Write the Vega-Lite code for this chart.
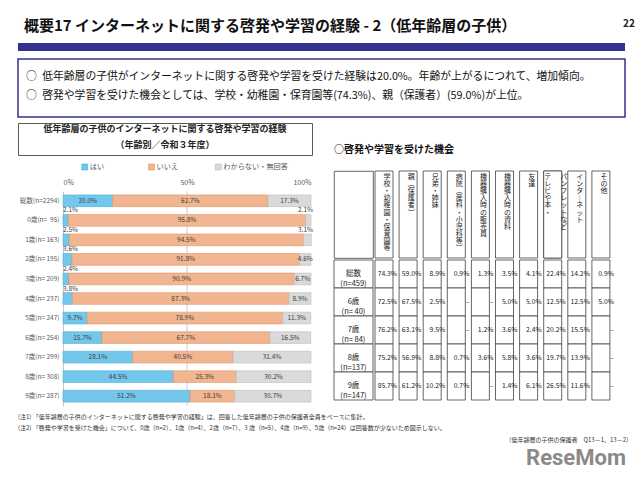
{
  "$schema": "https://vega.github.io/schema/vega-lite/v6.json",
  "background": "white",
  "padding": {"left": 17, "top": 17, "right": 4, "bottom": 0},
  "config": {
    "font": "Noto Sans CJK JP",
    "view": {"stroke": null},
    "axis": {"labelFont": "Noto Sans CJK JP", "titleFont": "Noto Sans CJK JP"},
    "legend": {"labelFont": "Noto Sans CJK JP"},
    "title": {"font": "Noto Sans CJK JP"},
    "text": {"font": "Noto Sans CJK JP"}
  },
  "datasets": {
    "bullets": [
      {"n": "1", "t": "○\u2002低年齢層の子供がインターネットに関する啓発や学習を受けた経験は20.0%。年齢が上がるにつれて、増加傾向。"},
      {"n": "2", "t": "○\u2002啓発や学習を受けた機会としては、学校・幼稚園・保育園等(74.3%)、親（保護者）(59.0%)が上位。"}
    ],
    "ltitle": [
      {"n": "1", "t": "低年齢層の子供のインターネットに関する啓発や学習の経験"},
      {"n": "2", "t": "（年齢別／令和３年度）"}
    ],
    "bars": [
      {"a": "総数(n=2294)", "c": "はい", "o": 1, "v": 0.200},
      {"a": "総数(n=2294)", "c": "いいえ", "o": 2, "v": 0.627},
      {"a": "総数(n=2294)", "c": "わからない・無回答", "o": 3, "v": 0.173},
      {"a": "0歳(n=\u00a0\u00a095)", "c": "はい", "o": 1, "v": 0.021},
      {"a": "0歳(n=\u00a0\u00a095)", "c": "いいえ", "o": 2, "v": 0.958},
      {"a": "0歳(n=\u00a0\u00a095)", "c": "わからない・無回答", "o": 3, "v": 0.021},
      {"a": "1歳(n=\u00a0163)", "c": "はい", "o": 1, "v": 0.025},
      {"a": "1歳(n=\u00a0163)", "c": "いいえ", "o": 2, "v": 0.945},
      {"a": "1歳(n=\u00a0163)", "c": "わからない・無回答", "o": 3, "v": 0.031},
      {"a": "2歳(n=\u00a0195)", "c": "はい", "o": 1, "v": 0.036},
      {"a": "2歳(n=\u00a0195)", "c": "いいえ", "o": 2, "v": 0.918},
      {"a": "2歳(n=\u00a0195)", "c": "わからない・無回答", "o": 3, "v": 0.046},
      {"a": "3歳(n=\u00a0209)", "c": "はい", "o": 1, "v": 0.024},
      {"a": "3歳(n=\u00a0209)", "c": "いいえ", "o": 2, "v": 0.909},
      {"a": "3歳(n=\u00a0209)", "c": "わからない・無回答", "o": 3, "v": 0.067},
      {"a": "4歳(n=\u00a0237)", "c": "はい", "o": 1, "v": 0.038},
      {"a": "4歳(n=\u00a0237)", "c": "いいえ", "o": 2, "v": 0.873},
      {"a": "4歳(n=\u00a0237)", "c": "わからない・無回答", "o": 3, "v": 0.089},
      {"a": "5歳(n=\u00a0247)", "c": "はい", "o": 1, "v": 0.097},
      {"a": "5歳(n=\u00a0247)", "c": "いいえ", "o": 2, "v": 0.789},
      {"a": "5歳(n=\u00a0247)", "c": "わからない・無回答", "o": 3, "v": 0.113},
      {"a": "6歳(n=\u00a0254)", "c": "はい", "o": 1, "v": 0.157},
      {"a": "6歳(n=\u00a0254)", "c": "いいえ", "o": 2, "v": 0.677},
      {"a": "6歳(n=\u00a0254)", "c": "わからない・無回答", "o": 3, "v": 0.165},
      {"a": "7歳(n=\u00a0299)", "c": "はい", "o": 1, "v": 0.281},
      {"a": "7歳(n=\u00a0299)", "c": "いいえ", "o": 2, "v": 0.405},
      {"a": "7歳(n=\u00a0299)", "c": "わからない・無回答", "o": 3, "v": 0.314},
      {"a": "8歳(n=\u00a0308)", "c": "はい", "o": 1, "v": 0.445},
      {"a": "8歳(n=\u00a0308)", "c": "いいえ", "o": 2, "v": 0.253},
      {"a": "8歳(n=\u00a0308)", "c": "わからない・無回答", "o": 3, "v": 0.302},
      {"a": "9歳(n=\u00a0287)", "c": "はい", "o": 1, "v": 0.512},
      {"a": "9歳(n=\u00a0287)", "c": "いいえ", "o": 2, "v": 0.181},
      {"a": "9歳(n=\u00a0287)", "c": "わからない・無回答", "o": 3, "v": 0.307}
    ],
    "hdr": [
      {"c": "学校・幼稚園・保育園等", "p": "c", "t": "学\n校\n・\n幼\n稚\n園\n・\n保\n育\n園\n等"},
      {"c": "親（保護者）", "p": "c", "t": "親\n︵\n保\n護\n者\n︶"},
      {"c": "兄弟・姉妹", "p": "c", "t": "兄\n弟\n・\n姉\n妹"},
      {"c": "病院（産科・小児科等）", "p": "c", "t": "病\n院\n︵\n産\n科\n・\n小\n児\n科\n等\n︶"},
      {"c": "機器購入時の販売員", "p": "c", "t": "機\n器\n購\n入\n時\nの\n販\n売\n員"},
      {"c": "機器購入時の資料", "p": "c", "t": "機\n器\n購\n入\n時\nの\n資\n料"},
      {"c": "友達", "p": "c", "t": "友\n達"},
      {"c": "テレビや本・パンフレットなど", "p": "l", "t": "テ\nレ\nビ\nや\n本\n・"},
      {"c": "テレビや本・パンフレットなど", "p": "r", "t": "パ\nン\nフ\nレ\nッ\nト\nな\nど"},
      {"c": "インターネット", "p": "c", "t": "イ\nン\nタ\n︱\nネ\nッ\nト"},
      {"c": "その他", "p": "c", "t": "そ\nの\n他"}
    ],
    "grp": [
      {"g": "総数\n(n=459)"},
      {"g": "6歳\n(n= 40)"},
      {"g": "7歳\n(n= 84)"},
      {"g": "8歳\n(n=137)"},
      {"g": "9歳\n(n=147)"}
    ],
    "tbl": [
      {"g": "総数\n(n=459)", "c": "学校・幼稚園・保育園等", "v": 0.743},
      {"g": "総数\n(n=459)", "c": "親（保護者）", "v": 0.590},
      {"g": "総数\n(n=459)", "c": "兄弟・姉妹", "v": 0.089},
      {"g": "総数\n(n=459)", "c": "病院（産科・小児科等）", "v": 0.009},
      {"g": "総数\n(n=459)", "c": "機器購入時の販売員", "v": 0.013},
      {"g": "総数\n(n=459)", "c": "機器購入時の資料", "v": 0.035},
      {"g": "総数\n(n=459)", "c": "友達", "v": 0.041},
      {"g": "総数\n(n=459)", "c": "テレビや本・パンフレットなど", "v": 0.224},
      {"g": "総数\n(n=459)", "c": "インターネット", "v": 0.142},
      {"g": "総数\n(n=459)", "c": "その他", "v": 0.009},
      {"g": "6歳\n(n= 40)", "c": "学校・幼稚園・保育園等", "v": 0.725},
      {"g": "6歳\n(n= 40)", "c": "親（保護者）", "v": 0.675},
      {"g": "6歳\n(n= 40)", "c": "兄弟・姉妹", "v": 0.025},
      {"g": "6歳\n(n= 40)", "c": "病院（産科・小児科等）", "v": null},
      {"g": "6歳\n(n= 40)", "c": "機器購入時の販売員", "v": null},
      {"g": "6歳\n(n= 40)", "c": "機器購入時の資料", "v": 0.050},
      {"g": "6歳\n(n= 40)", "c": "友達", "v": 0.050},
      {"g": "6歳\n(n= 40)", "c": "テレビや本・パンフレットなど", "v": 0.125},
      {"g": "6歳\n(n= 40)", "c": "インターネット", "v": 0.125},
      {"g": "6歳\n(n= 40)", "c": "その他", "v": 0.050},
      {"g": "7歳\n(n= 84)", "c": "学校・幼稚園・保育園等", "v": 0.762},
      {"g": "7歳\n(n= 84)", "c": "親（保護者）", "v": 0.631},
      {"g": "7歳\n(n= 84)", "c": "兄弟・姉妹", "v": 0.095},
      {"g": "7歳\n(n= 84)", "c": "病院（産科・小児科等）", "v": null},
      {"g": "7歳\n(n= 84)", "c": "機器購入時の販売員", "v": 0.012},
      {"g": "7歳\n(n= 84)", "c": "機器購入時の資料", "v": 0.036},
      {"g": "7歳\n(n= 84)", "c": "友達", "v": 0.024},
      {"g": "7歳\n(n= 84)", "c": "テレビや本・パンフレットなど", "v": 0.202},
      {"g": "7歳\n(n= 84)", "c": "インターネット", "v": 0.155},
      {"g": "7歳\n(n= 84)", "c": "その他", "v": null},
      {"g": "8歳\n(n=137)", "c": "学校・幼稚園・保育園等", "v": 0.752},
      {"g": "8歳\n(n=137)", "c": "親（保護者）", "v": 0.569},
      {"g": "8歳\n(n=137)", "c": "兄弟・姉妹", "v": 0.088},
      {"g": "8歳\n(n=137)", "c": "病院（産科・小児科等）", "v": 0.007},
      {"g": "8歳\n(n=137)", "c": "機器購入時の販売員", "v": 0.036},
      {"g": "8歳\n(n=137)", "c": "機器購入時の資料", "v": 0.058},
      {"g": "8歳\n(n=137)", "c": "友達", "v": 0.036},
      {"g": "8歳\n(n=137)", "c": "テレビや本・パンフレットなど", "v": 0.197},
      {"g": "8歳\n(n=137)", "c": "インターネット", "v": 0.139},
      {"g": "8歳\n(n=137)", "c": "その他", "v": null},
      {"g": "9歳\n(n=147)", "c": "学校・幼稚園・保育園等", "v": 0.857},
      {"g": "9歳\n(n=147)", "c": "親（保護者）", "v": 0.612},
      {"g": "9歳\n(n=147)", "c": "兄弟・姉妹", "v": 0.102},
      {"g": "9歳\n(n=147)", "c": "病院（産科・小児科等）", "v": 0.007},
      {"g": "9歳\n(n=147)", "c": "機器購入時の販売員", "v": null},
      {"g": "9歳\n(n=147)", "c": "機器購入時の資料", "v": 0.014},
      {"g": "9歳\n(n=147)", "c": "友達", "v": 0.061},
      {"g": "9歳\n(n=147)", "c": "テレビや本・パンフレットなど", "v": 0.265},
      {"g": "9歳\n(n=147)", "c": "インターネット", "v": 0.116},
      {"g": "9歳\n(n=147)", "c": "その他", "v": null}
    ],
    "notes": [
      {"n": "1", "t": "(注1) 「低年齢層の子供のインターネットに関する啓発や学習の経験」は、回答した低年齢層の子供の保護者全員をベースに集計。"},
      {"n": "2", "t": "(注2) 「啓発や学習を受けた機会」について、0歳（n=2）、1歳（n=4）、2歳（n=7）、3 歳（n=5）、4歳（n=9）、5歳（n=24）は回答数が少ないため図示しない。"},
      {"n": "3", "t": "（低年齢層の子供の保護者　Q13－1、13－2）"},
      {"n": "4", "t": "ReseMom"}
    ]
  },
  "spacing": 4,
  "resolve": {"scale": {"color": "independent"}, "legend": {"color": "independent"}},
  "vconcat": [
    {
      "spacing": 6,
      "vconcat": [
        {
          "width": 607,
          "height": 18,
          "layer": [
            {
              "data": {"values": [{"t": "概要17 インターネットに関する啓発や学習の経験 - 2（低年齢層の子供）"}]},
              "mark": {"type": "text", "align": "left", "fontSize": 15, "fontWeight": "bold", "color": "#111111"},
              "encoding": {"text": {"field": "t"}, "x": {"value": 6}}
            },
            {
              "data": {"values": [{"t": "22"}]},
              "mark": {"type": "text", "align": "left", "fontSize": 10, "fontWeight": "bold", "color": "#222222", "dy": -2},
              "encoding": {"text": {"field": "t"}, "x": {"value": 605}}
            }
          ]
        },
        {
          "width": 607,
          "height": 8,
          "view": {"fill": "#33338F", "stroke": null},
          "data": {"values": [{"t": ""}]},
          "mark": {"type": "text"},
          "encoding": {"text": {"field": "t"}}
        },
        {
          "width": 607,
          "height": 58,
          "view": {"stroke": "#33338F", "strokeWidth": 1.5},
          "data": {"name": "bullets"},
          "mark": {"type": "text", "align": "left", "fontSize": 10.8, "color": "#111111", "dx": 8, "dy": -1.5},
          "encoding": {
            "y": {"field": "n", "type": "ordinal", "axis": null, "scale": {"padding": 1.2}},
            "x": {"value": 0},
            "text": {"field": "t"}
          }
        }
      ]
    },
    {
      "spacing": 20,
      "resolve": {"scale": {"color": "independent"}, "legend": {"color": "independent"}},
      "hconcat": [
        {
          "spacing": 5,
          "resolve": {"scale": {"color": "independent"}, "legend": {"color": "independent"}},
          "vconcat": [
            {
              "width": 294,
              "height": 32,
              "view": {"stroke": "#595959", "strokeWidth": 1},
              "data": {"name": "ltitle"},
              "mark": {"type": "text", "fontSize": 9, "fontWeight": "bold", "color": "#222222", "dy": -2},
              "encoding": {
                "y": {"field": "n", "type": "ordinal", "axis": null},
                "text": {"field": "t"}
              }
            },
            {
              "width": 267,
              "height": 12,
              "data": {"name": "bars"},
              "transform": [{"aggregate": [], "groupby": ["c", "o"]}],
              "encoding": {
                "x": {"field": "c", "type": "nominal", "sort": {"field": "o", "op": "min"}, "axis": null, "scale": {"type": "point", "padding": 1.543}}
              },
              "layer": [
                {
                  "mark": {"type": "square", "size": 36, "opacity": 1, "strokeWidth": 0.6},
                  "encoding": {
                    "color": {"field": "c", "type": "nominal", "scale": {"domain": ["はい", "いいえ", "わからない・無回答"], "range": ["#73C7EA", "#F1B58F", "#DADADA"]}, "legend": null},
                    "stroke": {"field": "c", "type": "nominal", "scale": {"domain": ["はい", "いいえ", "わからない・無回答"], "range": ["#4AAFDA", "#E0956A", "#BDBDBD"]}, "legend": null}
                  }
                },
                {
                  "mark": {"type": "text", "align": "left", "dx": 5, "fontSize": 7.2, "color": "#595959"},
                  "encoding": {"text": {"field": "c"}}
                }
              ]
            },
            {
              "width": 294,
              "height": 215,
              "data": {"name": "bars"},
              "layer": [
                {
                  "data": {"values": [{"x": 0.5}]},
                  "mark": {"type": "rule", "color": "#BFBFBF", "strokeWidth": 0.8},
                  "encoding": {"x": {"field": "x", "type": "quantitative"}}
                },
                {
                  "mark": {"type": "bar", "strokeWidth": 0.6},
                  "encoding": {
                    "y": {"field": "a", "type": "nominal", "sort": null, "title": null, "scale": {"paddingInner": 0.4, "paddingOuter": 0.2}, "axis": {"offset": -45, "domain": true, "domainColor": "#C8C8C8", "ticks": false, "labelFontSize": 6.5, "labelColor": "#595959", "labelPadding": 4}},
                    "x": {"field": "v", "type": "quantitative", "stack": "zero", "scale": {"domain": [0, 1], "nice": false, "range": [45, 293]}, "axis": {"orient": "top", "values": [0, 0.5, 1], "format": ".0%", "domain": false, "ticks": false, "grid": false, "labelFontSize": 7, "labelColor": "#595959", "labelPadding": 6, "title": null}},
                    "color": {"field": "c", "type": "nominal", "scale": {"domain": ["はい", "いいえ", "わからない・無回答"], "range": ["#73C7EA", "#F1B58F", "#DADADA"]}, "legend": null},
                    "stroke": {"field": "c", "type": "nominal", "scale": {"domain": ["はい", "いいえ", "わからない・無回答"], "range": ["#4AAFDA", "#E0956A", "#BDBDBD"]}, "legend": null},
                    "order": {"field": "o", "type": "quantitative"}
                  }
                },
                {
                  "mark": {"type": "text", "fontSize": 6.5, "color": "#404040"},
                  "encoding": {
                    "y": {"field": "a", "type": "nominal", "sort": null},
                    "x": {"field": "v", "type": "quantitative", "stack": "zero", "bandPosition": 0.5},
                    "detail": {"field": "c"},
                    "order": {"field": "o", "type": "quantitative"},
                    "text": {"field": "v", "type": "quantitative", "format": ".1%", "condition": {"test": "(datum.c == 'はい' && datum.v < 0.05) || (datum.c == 'わからない・無回答' && datum.v < 0.04)", "value": ""}}
                  }
                },
                {
                  "transform": [{"filter": "datum.c == 'はい' && datum.v < 0.05"}],
                  "mark": {"type": "text", "fontSize": 6.5, "color": "#404040", "align": "left", "dy": -10},
                  "encoding": {
                    "y": {"field": "a", "type": "nominal", "sort": null},
                    "x": {"datum": 0, "type": "quantitative"},
                    "text": {"field": "v", "type": "quantitative", "format": ".1%"}
                  }
                },
                {
                  "transform": [{"filter": "datum.c == 'わからない・無回答' && datum.v < 0.04"}],
                  "mark": {"type": "text", "fontSize": 6.5, "color": "#404040", "align": "right", "dx": 2, "dy": -10},
                  "encoding": {
                    "y": {"field": "a", "type": "nominal", "sort": null},
                    "x": {"datum": 1, "type": "quantitative"},
                    "text": {"field": "v", "type": "quantitative", "format": ".1%"}
                  }
                }
              ]
            }
          ]
        },
        {
          "spacing": 0,
          "vconcat": [
            {
              "width": 280,
              "height": 47,
              "data": {"values": [{"t": "○啓発や学習を受けた機会"}]},
              "mark": {"type": "text", "align": "left", "fontSize": 10, "fontWeight": "bold", "color": "#111111", "dy": 3},
              "encoding": {"text": {"field": "t"}, "x": {"value": 0}}
            },
            {
              "spacing": 0,
              "hconcat": [
                {
                  "width": 39,
                  "height": 87,
                  "view": {"stroke": "#404040", "strokeWidth": 0.8},
                  "data": {"values": [{"t": ""}]},
                  "mark": {"type": "text"},
                  "encoding": {"text": {"field": "t"}}
                },
                {
                  "width": 241,
                  "height": 87,
                  "data": {"name": "hdr"},
                  "layer": [
                    {
                      "mark": {"type": "rect", "fill": "white", "stroke": "#404040", "strokeWidth": 0.8},
                      "encoding": {"x": {"field": "c", "type": "nominal", "sort": null, "axis": null, "scale": {"paddingInner": 0, "paddingOuter": 0}}}
                    },
                    {
                      "mark": {"type": "text", "lineBreak": "\n", "baseline": "top", "fontSize": 7, "lineHeight": 7.1, "color": "#222222", "y": 2},
                      "encoding": {
                        "x": {"field": "c", "type": "nominal", "sort": null},
                        "xOffset": {"field": "p", "type": "nominal", "scale": {"domain": ["l", "c", "r"]}},
                        "text": {"field": "t"}
                      }
                    }
                  ]
                }
              ]
            },
            {
              "spacing": 0,
              "hconcat": [
                {
                  "width": 39,
                  "height": 140,
                  "data": {"name": "grp"},
                  "encoding": {"y": {"field": "g", "type": "nominal", "sort": null, "axis": null, "scale": {"paddingInner": 0, "paddingOuter": 0}}},
                  "layer": [
                    {"mark": {"type": "rect", "fill": "white", "stroke": "#404040", "strokeWidth": 0.8}},
                    {"mark": {"type": "text", "lineBreak": "\n", "fontSize": 7.5, "lineHeight": 10, "color": "#222222"}, "encoding": {"text": {"field": "g"}}}
                  ]
                },
                {
                  "width": 241,
                  "height": 140,
                  "data": {"name": "tbl"},
                  "encoding": {
                    "y": {"field": "g", "type": "nominal", "sort": null, "axis": null, "scale": {"paddingInner": 0, "paddingOuter": 0}}
                  },
                  "layer": [
                    {
                      "mark": {"type": "rect", "fill": "white", "stroke": "#404040", "strokeWidth": 0.8},
                      "encoding": {"x": {"field": "c", "type": "nominal", "sort": null, "axis": null, "scale": {"paddingInner": 0, "paddingOuter": 0}}}
                    },
                    {
                      "mark": {"type": "text", "align": "right", "fontSize": 6.8, "color": "#222222", "dx": -2},
                      "encoding": {
                        "x": {"field": "c", "type": "nominal", "sort": null, "bandPosition": 1},
                        "text": {"field": "v", "type": "quantitative", "format": ".1%", "condition": {"test": "datum.v == null", "value": "–"}}
                      }
                    }
                  ]
                }
              ]
            }
          ]
        }
      ]
    },
    {
      "width": 607,
      "height": 46,
      "data": {"name": "notes"},
      "encoding": {
        "y": {"field": "n", "type": "ordinal", "axis": null},
        "text": {"field": "t"}
      },
      "layer": [
        {
          "transform": [{"filter": "datum.n == '1' || datum.n == '2'"}],
          "mark": {"type": "text", "align": "left", "fontSize": 6, "color": "#333333", "dy": 0},
          "encoding": {"x": {"value": 0}}
        },
        {
          "transform": [{"filter": "datum.n == '3'"}],
          "mark": {"type": "text", "align": "right", "fontSize": 6, "color": "#333333", "dy": 0},
          "encoding": {"x": {"value": 614}}
        },
        {
          "transform": [{"filter": "datum.n == '4'"}],
          "mark": {"type": "text", "align": "right", "fontSize": 22, "fontWeight": "bold", "color": "#8A8A8A", "dy": 7, "font": "Roboto"},
          "encoding": {"x": {"value": 608}}
        }
      ]
    }
  ]
}
